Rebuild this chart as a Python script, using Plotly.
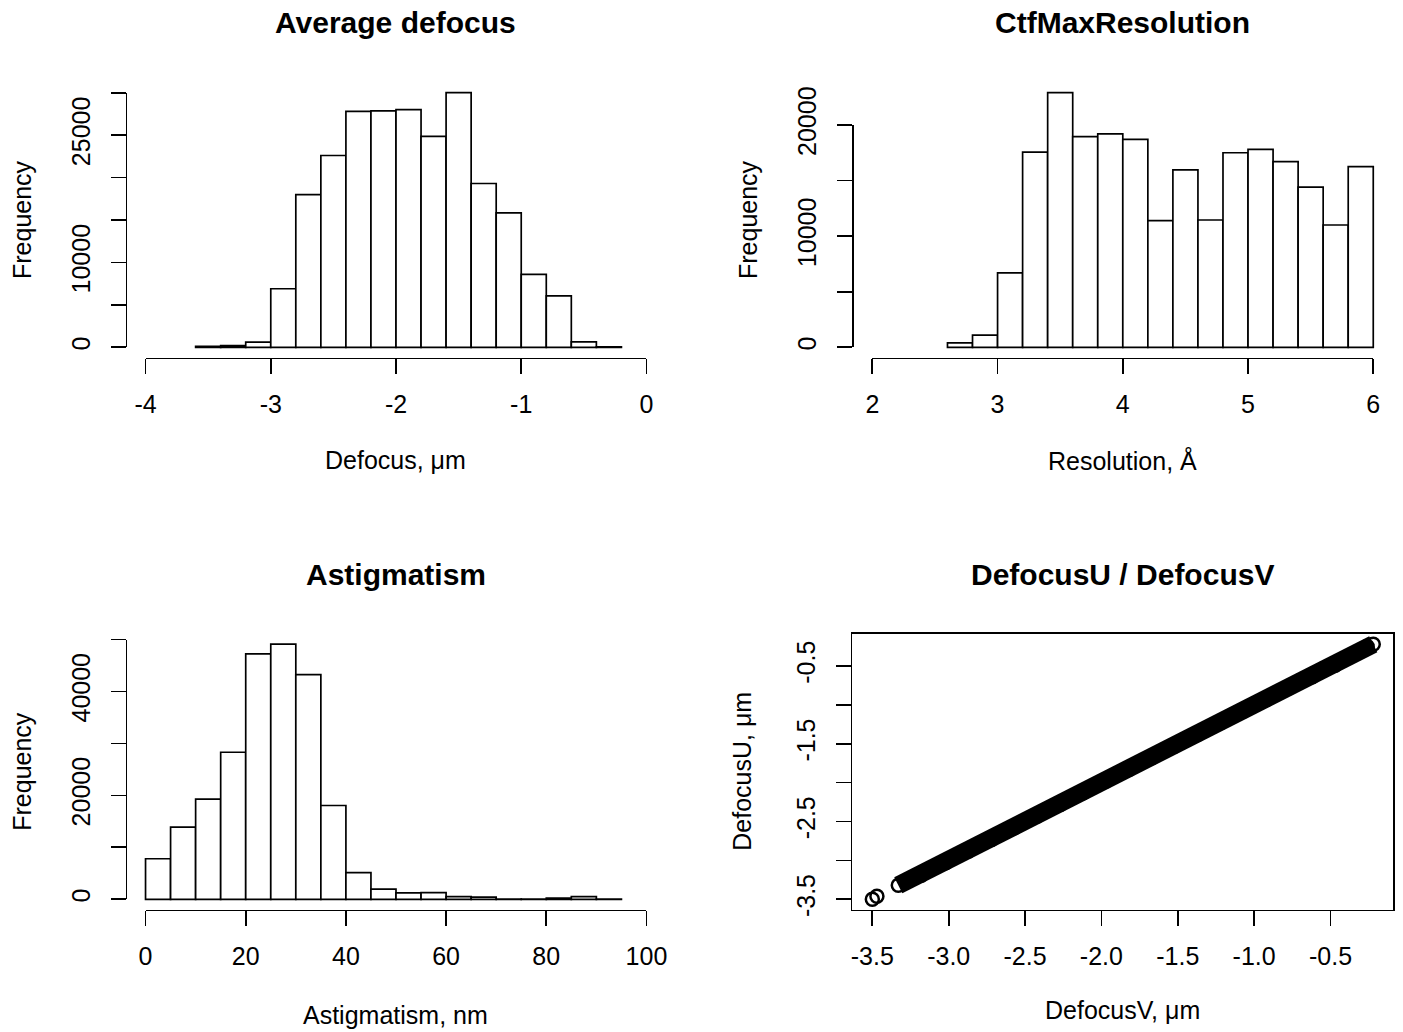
import plotly.graph_objects as go

W, H = 1403, 1032
FONT = "Liberation Sans, Arial, Helvetica, sans-serif"

# ---------------- data ----------------
# Average defocus histogram
defocus_edges = [-3.6, -3.4, -3.2, -3.0, -2.8, -2.6, -2.4, -2.2, -2.0, -1.8,
                 -1.6, -1.4, -1.2, -1.0, -0.8, -0.6, -0.4, -0.2]
defocus_counts = [100, 200, 600, 6900, 18000, 22600, 27800, 27850, 28000, 24850,
                  30000, 19300, 15850, 8600, 6050, 650, 50]
defocus_xticks = [-4, -3, -2, -1, 0]
defocus_xlabels = ["-4", "-3", "-2", "-1", "0"]
defocus_yticks = [0, 5000, 10000, 15000, 20000, 25000, 30000]
defocus_ylabels = ["0", "", "10000", "", "", "25000", ""]

# CtfMaxResolution histogram
res_edges = [2.6, 2.8, 3.0, 3.2, 3.4, 3.6, 3.8, 4.0, 4.2, 4.4, 4.6, 4.8, 5.0,
             5.2, 5.4, 5.6, 5.8, 6.0]
res_counts = [400, 1100, 6700, 17550, 22900, 18950, 19200, 18700, 11400, 15950,
              11450, 17500, 17800, 16700, 14400, 11000, 16250]
res_xticks = [2, 3, 4, 5, 6]
res_xlabels = ["2", "3", "4", "5", "6"]
res_yticks = [0, 5000, 10000, 15000, 20000]
res_ylabels = ["0", "", "10000", "", "20000"]

# Astigmatism histogram
astig_edges = [0, 5, 10, 15, 20, 25, 30, 35, 40, 45, 50, 55, 60, 65, 70, 75,
               80, 85, 90, 95]
astig_counts = [7800, 13900, 19300, 28300, 47250, 49100, 43250, 18050, 5150,
                1950, 1250, 1300, 500, 400, 60, 30, 250, 500, 60]
astig_xticks = [0, 20, 40, 60, 80, 100]
astig_xlabels = ["0", "20", "40", "60", "80", "100"]
astig_yticks = [0, 10000, 20000, 30000, 40000, 50000]
astig_ylabels = ["0", "", "20000", "", "40000", ""]

# DefocusU vs DefocusV scatter (points read along the dense band)
defocus_v = [-3.33, -3.25, -3.18, -3.10, -3.02, -2.95, -2.87, -2.80, -2.72,
             -2.64, -2.57, -2.50, -2.42, -2.35, -2.27, -2.20, -2.12, -2.05,
             -1.97, -1.90, -1.82, -1.75, -1.67, -1.60, -1.52, -1.45, -1.37,
             -1.30, -1.22, -1.15, -1.07, -1.00, -0.92, -0.85, -0.77, -0.70,
             -0.62, -0.55, -0.47, -0.40, -0.32, -0.26, -0.22]
defocus_u = [-3.32, -3.24, -3.19, -3.09, -3.03, -2.94, -2.88, -2.79, -2.73,
             -2.63, -2.58, -2.49, -2.43, -2.34, -2.28, -2.19, -2.13, -2.04,
             -1.98, -1.89, -1.83, -1.74, -1.68, -1.59, -1.53, -1.44, -1.38,
             -1.29, -1.23, -1.14, -1.08, -0.99, -0.93, -0.84, -0.78, -0.69,
             -0.64, -0.54, -0.49, -0.40, -0.33, -0.25, -0.22]
outlier_v = [-3.50, -3.47]
outlier_u = [-3.50, -3.46]
scatter_ticks = [-3.5, -3.0, -2.5, -2.0, -1.5, -1.0, -0.5]
scatter_xlabels = ["-3.5", "-3.0", "-2.5", "-2.0", "-1.5", "-1.0", "-0.5"]
scatter_ylabels = ["-3.5", "", "-2.5", "", "-1.5", "", "-0.5"]

# ---------------- layout helpers (pixel -> paper) ----------------
def pxx(p):
    return p / W


def pxy(p):
    return 1 - p / H


COL_L = (125.5, 666.5)
COL_R = (852.3, 1393.3)
ROW_T = (82.5, 357.5)
ROW_B = (634.0, 909.5)

LW = 1.7
TICKLEN = 15
XSTAND = 9
YSTAND = 11
TICKFONT = dict(family=FONT, size=25, color="black")

fig = go.Figure()
layout = dict(
    template="none",
    width=W, height=H,
    margin=dict(l=0, r=0, t=0, b=0, pad=0, autoexpand=False),
    paper_bgcolor="white", plot_bgcolor="rgba(0,0,0,0)",
    showlegend=False,
    annotations=[],
)


def ext(lo, hi):
    d = (hi - lo) * 0.04
    return [lo - d, hi + d]


def add_hist(n, edges, counts, xticks, xlabels, yticks, ylabels, col, row):
    dx, dy = n, n + 1
    centers = [(a + b) / 2 for a, b in zip(edges[:-1], edges[1:])]
    widths = [b - a for a, b in zip(edges[:-1], edges[1:])]
    xr = ext(xticks[0], xticks[-1])
    ymax = max(counts)
    yr = [-0.04 * ymax, 1.04 * ymax]
    fig.add_trace(go.Bar(
        x=centers, y=counts, width=widths,
        marker=dict(color="white", line=dict(color="black", width=LW)),
        xaxis=f"x{dx}", yaxis=f"y{dx}", hoverinfo="skip"))
    # empty trace hosting the R-style axes
    fig.add_trace(go.Scatter(x=[], y=[], xaxis=f"x{dy}", yaxis=f"y{dy}",
                             hoverinfo="skip"))
    layout[f"xaxis{dx}"] = dict(domain=[pxx(col[0]), pxx(col[1])], range=xr,
                                visible=False, anchor=f"y{dx}", automargin=False)
    layout[f"yaxis{dx}"] = dict(domain=[pxy(row[1]), pxy(row[0])], range=yr,
                                visible=False, anchor=f"x{dx}", automargin=False)

    def xpix(v):
        return col[0] + (v - xr[0]) / (xr[1] - xr[0]) * (col[1] - col[0])

    def ypix(v):
        return row[1] - (v - yr[0]) / (yr[1] - yr[0]) * (row[1] - row[0])

    common = dict(showline=True, linecolor="black", linewidth=LW,
                  ticks="outside", ticklen=TICKLEN, tickwidth=LW,
                  tickcolor="black", showgrid=False, zeroline=False,
                  tickfont=TICKFONT, anchor="free", tickmode="array",
                  automargin=False)
    layout[f"xaxis{dy}"] = dict(
        domain=[pxx(xpix(xticks[0])), pxx(xpix(xticks[-1]))],
        range=[xticks[0], xticks[-1]], position=pxy(row[1]),
        tickvals=xticks, ticktext=xlabels, ticklabelstandoff=XSTAND, **common)
    layout[f"yaxis{dy}"] = dict(
        domain=[pxy(ypix(yticks[0])), pxy(ypix(yticks[-1]))],
        range=[yticks[0], yticks[-1]], position=pxx(col[0]),
        tickvals=yticks, ticktext=ylabels, tickangle=-90,
        ticklabelstandoff=YSTAND, **common)


add_hist(1, defocus_edges, defocus_counts, defocus_xticks, defocus_xlabels,
         defocus_yticks, defocus_ylabels, COL_L, ROW_T)
add_hist(3, res_edges, res_counts, res_xticks, res_xlabels,
         res_yticks, res_ylabels, COL_R, ROW_T)
add_hist(5, astig_edges, astig_counts, astig_xticks, astig_xlabels,
         astig_yticks, astig_ylabels, COL_L, ROW_B)

# scatter
all_v = defocus_v + outlier_v
all_u = defocus_u + outlier_u
sxr = ext(min(all_v), max(all_v))
syr = ext(min(all_u), max(all_u))
fig.add_trace(go.Scatter(x=defocus_v, y=defocus_u, mode="lines",
                         line=dict(color="black", width=18),
                         xaxis="x7", yaxis="y7", hoverinfo="skip"))
fig.add_trace(go.Scatter(x=defocus_v, y=defocus_u, mode="markers",
                         marker=dict(symbol="circle-open", size=13, color="black",
                                     line=dict(width=2.5, color="black")),
                         xaxis="x7", yaxis="y7", hoverinfo="skip"))
fig.add_trace(go.Scatter(x=outlier_v, y=outlier_u, mode="markers",
                         marker=dict(symbol="circle-open", size=13, color="black",
                                     line=dict(width=2.5, color="black")),
                         xaxis="x7", yaxis="y7", hoverinfo="skip"))
box = dict(showline=True, mirror=True, linecolor="black", linewidth=LW,
           ticks="outside", ticklen=TICKLEN, tickwidth=LW, tickcolor="black",
           showgrid=False, zeroline=False, tickfont=TICKFONT, tickmode="array",
           automargin=False)
layout["xaxis7"] = dict(domain=[pxx(COL_R[0]), pxx(COL_R[1])], range=sxr,
                        anchor="y7", tickvals=scatter_ticks,
                        ticktext=scatter_xlabels, ticklabelstandoff=XSTAND, **box)
layout["yaxis7"] = dict(domain=[pxy(ROW_B[1]), pxy(ROW_B[0])], range=syr,
                        anchor="x7", tickvals=scatter_ticks,
                        ticktext=scatter_ylabels, tickangle=-90,
                        ticklabelstandoff=YSTAND, **box)

# ---------------- text ----------------
def ann(text, x, y, size=25, bold=False, angle=0):
    layout["annotations"].append(dict(
        text=f"<b>{text}</b>" if bold else text,
        x=pxx(x), y=pxy(y), xref="paper", yref="paper",
        xanchor="center", yanchor="middle", showarrow=False, textangle=angle,
        font=dict(family=FONT, size=size, color="black")))


cxL = (COL_L[0] + COL_L[1]) / 2
cxR = (COL_R[0] + COL_R[1]) / 2
cyT = (ROW_T[0] + ROW_T[1]) / 2
cyB = (ROW_B[0] + ROW_B[1]) / 2

ann("Average defocus", cxL, 22, size=30, bold=True)
ann("CtfMaxResolution", cxR, 22, size=30, bold=True)
ann("Astigmatism", cxL, 574, size=30, bold=True)
ann("DefocusU / DefocusV", cxR, 574, size=30, bold=True)
ann("Defocus, μm", cxL, 460)
ann("Resolution, Å", cxR, 460)
ann("Astigmatism, nm", cxL, 1015)
ann("DefocusV, μm", cxR, 1010)
ann("Frequency", 22, cyT, angle=-90)
ann("Frequency", 748, cyT, angle=-90)
ann("Frequency", 22, cyB, angle=-90)
ann("DefocusU, μm", 742, cyB, angle=-90)

fig.update_layout(**layout)
fig.write_html("out.html",
               config={"displayModeBar": False, "staticPlot": True},
               post_script="document.body.style.margin='0px';"
                           "document.body.style.overflow='hidden';")
